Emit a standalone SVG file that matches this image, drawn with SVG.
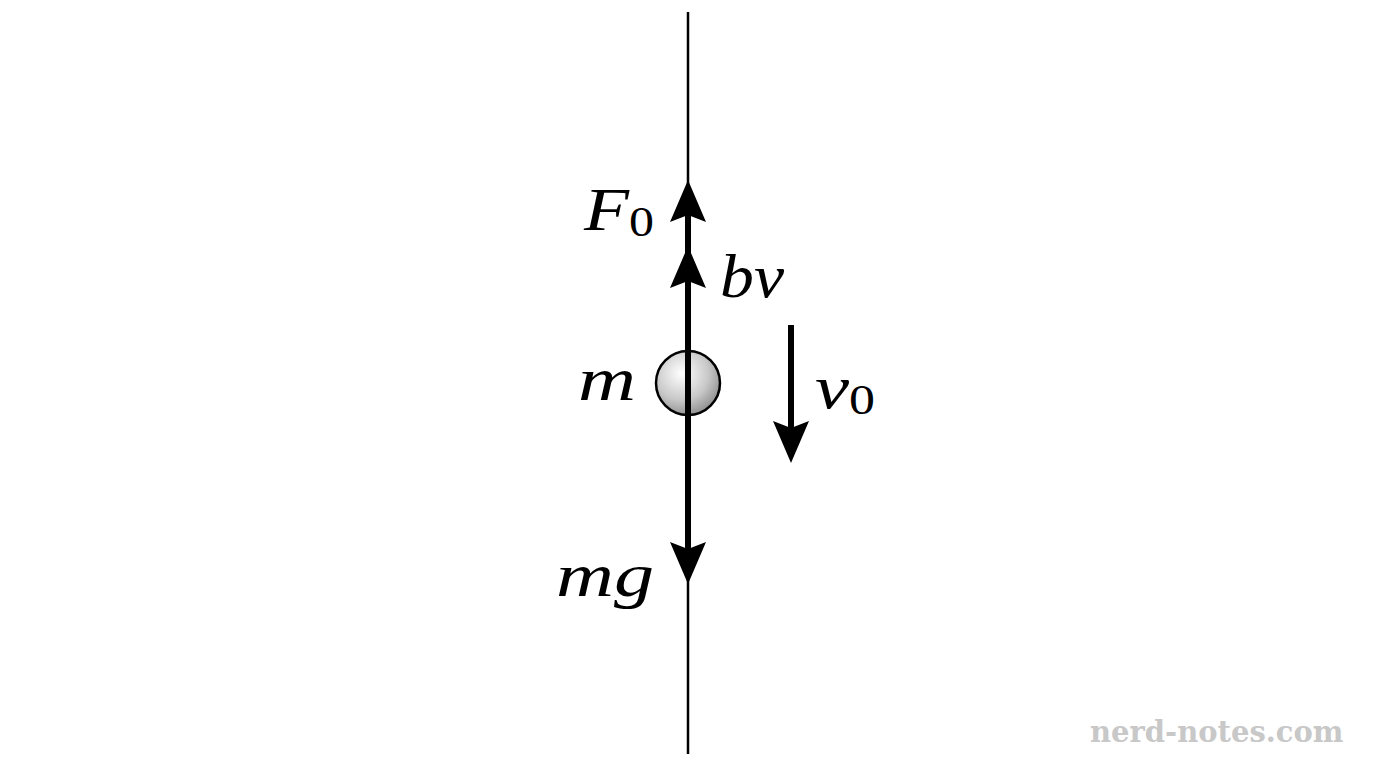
<svg xmlns="http://www.w3.org/2000/svg" width="1376" height="768" viewBox="0 0 1376 768">
<style>
.lbl{font-family:"Liberation Serif","DejaVu Serif",serif;font-style:italic;font-size:62px;fill:#000}
.sub{font-style:normal;font-size:42px}
.wm{font-family:"DejaVu Serif","Liberation Serif",serif;font-weight:bold;font-size:29px;fill:#c8c8c8}
</style>
<defs>
<radialGradient id="ball" cx="0.4" cy="0.35" r="0.7">
<stop offset="0" stop-color="#ffffff"/><stop offset="0.6" stop-color="#c8c8c8"/><stop offset="1" stop-color="#8a8a8a"/>
</radialGradient>
<path id="headUp" d="M0,0 L18,42 L0,35 L-18,42 Z" fill="#000"/>
</defs>
<rect width="1376" height="768" fill="#fff"/>
<g id="connectors">
<line x1="688" y1="12" x2="688" y2="754" stroke="#000" stroke-width="2.5"/>
<line x1="688" y1="215" x2="688" y2="550" stroke="#000" stroke-width="6"/>
<use href="#headUp" transform="translate(688,180)"/>
<use href="#headUp" transform="translate(688,246)"/>
<use href="#headUp" transform="translate(688,584) rotate(180)"/>
<line x1="791" y1="325" x2="791" y2="430" stroke="#000" stroke-width="6"/>
<use href="#headUp" transform="translate(791,463) rotate(180)"/>
</g>
<g id="mass">
<circle cx="688" cy="383" r="32" fill="url(#ball)" stroke="#000" stroke-width="2.5"/>
<line x1="688" y1="351" x2="688" y2="415" stroke="#000" stroke-width="6"/>
</g>
<g id="labels">
<text class="lbl" x="584" y="230" textLength="70" lengthAdjust="spacingAndGlyphs">F<tspan class="sub" dy="6">0</tspan></text>
<text class="lbl" x="720" y="297" textLength="64" lengthAdjust="spacingAndGlyphs">bv</text>
<text class="lbl" x="578" y="400" textLength="58" lengthAdjust="spacingAndGlyphs">m</text>
<text class="lbl" x="556" y="596" textLength="98" lengthAdjust="spacingAndGlyphs">mg</text>
<text class="lbl" x="815" y="408" textLength="60" lengthAdjust="spacingAndGlyphs">v<tspan class="sub" dy="6">0</tspan></text>
</g>
<text class="wm" x="1090" y="742">nerd-notes.com</text>
</svg>
